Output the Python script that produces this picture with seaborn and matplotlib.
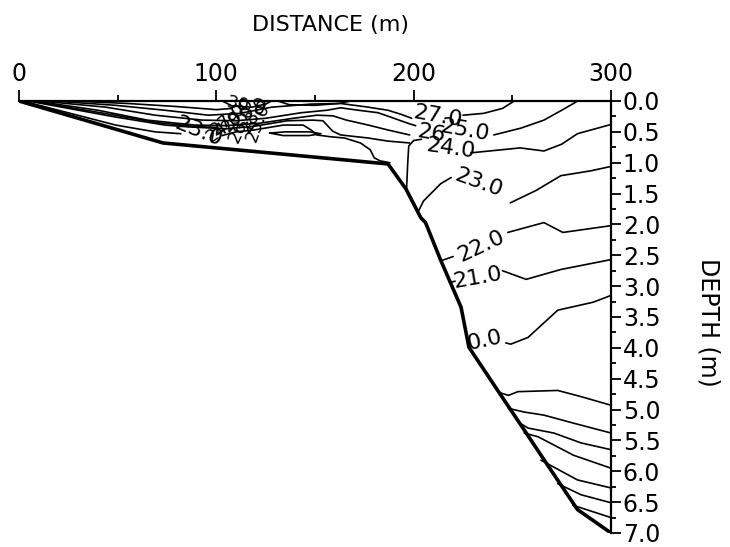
import matplotlib
matplotlib.use("Agg")
import matplotlib.pyplot as plt
import seaborn as sns
import pandas as pd
from matplotlib.ticker import MultipleLocator, FormatStrFormatter

# ---------------- data (distance m, depth m) ----------------
bed_x = [0, 73, 187, 196, 203.6, 206, 213.7, 224, 228, 243, 256, 266, 283, 300]
bed_d = [0, 0.68, 1.02, 1.42, 1.89, 1.97, 2.58, 3.34, 3.99, 4.71, 5.33, 5.81, 6.62, 7.0]

# shallow-shelf isotherms (fanning out from the shore)
iso_f0_x = [26, 55, 80, 100, 108]
iso_f0_d = [0, 0.04, 0.09, 0.14, 0.12]
iso_f1_x = [17, 49, 74, 96, 112, 128, 148, 163, 177, 187, 194, 199]
iso_f1_d = [0, 0.07, 0.15, 0.23, 0.20, 0.10, 0.05, 0.04, 0.10, 0.15, 0.22, 0.28]
iso_f2_x = [10.7, 44, 69, 93, 110, 125, 143, 156, 163, 172, 182, 190, 197, 201]
iso_f2_d = [0, 0.10, 0.23, 0.31, 0.32, 0.28, 0.19, 0.15, 0.11, 0.15, 0.19, 0.28, 0.36, 0.40]
iso_f3_x = [8, 40, 65, 89, 105, 122, 139, 151, 159, 166, 177, 187, 198]
iso_f3_d = [0, 0.15, 0.31, 0.39, 0.40, 0.36, 0.28, 0.23, 0.24, 0.31, 0.39, 0.47, 0.55]
iso_f35_x = [6, 45, 70, 88, 100]
iso_f35_d = [0, 0.21, 0.35, 0.41, 0.43]
iso_f4_x = [4.6, 49, 74, 86, 105, 119, 136, 149, 154, 159, 163, 177, 187, 198]
iso_f4_d = [0, 0.26, 0.39, 0.42, 0.45, 0.41, 0.32, 0.31, 0.32, 0.49, 0.55, 0.60, 0.65, 0.68]
iso_23a_x = [3, 49, 69, 82]
iso_23a_d = [0.01, 0.39, 0.50, 0.53]
iso_23b_x = [103, 110, 119, 134, 144, 148, 151, 158, 165, 173, 178, 180, 183, 188]
iso_23b_d = [0.56, 0.50, 0.47, 0.39, 0.39, 0.47, 0.55, 0.58, 0.60, 0.68, 0.79, 0.92, 0.97, 1.00]
iso_s1_x = [103, 108, 118, 125, 128]
iso_s1_d = [0, 0.08, 0.10, 0.05, 0]
iso_s2_x = [131, 137, 150, 162, 168]
iso_s2_d = [0, 0.06, 0.07, 0.04, 0]
iso_s3_x = [127, 135, 147, 153, 147, 134, 127]
iso_s3_d = [0.52, 0.50, 0.50, 0.53, 0.56, 0.56, 0.52]

# isotherms over the deep channel
iso_27_x = [225, 235.5, 245, 251]
iso_27_d = [0.23, 0.20, 0.12, 0.0]
iso_25_x = [240.6, 254.3, 266, 275, 281, 283]
iso_25_d = [0.55, 0.44, 0.31, 0.15, 0.04, 0.0]
iso_24a_x = [196.4, 197, 197.5, 200, 204]
iso_24a_d = [1.42, 1.00, 0.73, 0.64, 0.62]
iso_24b_x = [229, 254, 266, 275, 283, 300]
iso_24b_d = [0.84, 0.76, 0.81, 0.70, 0.53, 0.38]
iso_23c_x = [202.5, 205, 213.7, 219]
iso_23c_d = [1.78, 1.62, 1.34, 1.24]
iso_23d_x = [249, 262, 274.6, 290, 300]
iso_23d_d = [1.65, 1.45, 1.21, 1.13, 1.06]
iso_22a_x = [214.7, 220]
iso_22a_d = [2.58, 2.52]
iso_22b_x = [247.7, 266, 275.6, 300]
iso_22b_d = [2.13, 1.97, 2.13, 2.02]
iso_21a_x = [218.2, 221]
iso_21a_d = [2.94, 2.92]
iso_21b_x = [245, 257, 274.6, 300]
iso_21b_d = [2.75, 2.89, 2.73, 2.57]
iso_20_x = [246.7, 249.2, 258, 273, 291, 300]
iso_20_d = [3.92, 3.94, 3.83, 3.39, 3.26, 3.15]
iso_19_x = [243, 248, 252.8, 273, 284.8, 300]
iso_19_d = [4.72, 4.77, 4.71, 4.69, 4.79, 4.93]
iso_18_x = [248, 256, 266, 281, 300]
iso_18_d = [4.98, 5.04, 5.09, 5.22, 5.38]
iso_17_x = [252.8, 258, 271, 284.8, 300]
iso_17_d = [5.20, 5.30, 5.38, 5.54, 5.65]
iso_16_x = [256, 263, 281, 300]
iso_16_d = [5.38, 5.44, 5.74, 5.95]
iso_15_x = [264.5, 283, 300]
iso_15_d = [5.82, 6.14, 6.27]
iso_14_x = [273, 284.8, 300]
iso_14_d = [6.20, 6.38, 6.51]
iso_13_x = [280.7, 300]
iso_13_d = [6.55, 6.75]

iso_lines = {
    "f0": (iso_f0_x, iso_f0_d),
    "f1": (iso_f1_x, iso_f1_d), "f2": (iso_f2_x, iso_f2_d),
    "f3": (iso_f3_x, iso_f3_d), "f35": (iso_f35_x, iso_f35_d),
    "f4": (iso_f4_x, iso_f4_d),
    "23a": (iso_23a_x, iso_23a_d), "23b": (iso_23b_x, iso_23b_d),
    "s1": (iso_s1_x, iso_s1_d), "s2": (iso_s2_x, iso_s2_d),
    "s3": (iso_s3_x, iso_s3_d),
    "27": (iso_27_x, iso_27_d), "25": (iso_25_x, iso_25_d),
    "24a": (iso_24a_x, iso_24a_d), "24b": (iso_24b_x, iso_24b_d),
    "23c": (iso_23c_x, iso_23c_d), "23d": (iso_23d_x, iso_23d_d),
    "22a": (iso_22a_x, iso_22a_d), "22b": (iso_22b_x, iso_22b_d),
    "21a": (iso_21a_x, iso_21a_d), "21b": (iso_21b_x, iso_21b_d),
    "20": (iso_20_x, iso_20_d), "19": (iso_19_x, iso_19_d),
    "18": (iso_18_x, iso_18_d), "17": (iso_17_x, iso_17_d),
    "16": (iso_16_x, iso_16_d), "15": (iso_15_x, iso_15_d),
    "14": (iso_14_x, iso_14_d), "13": (iso_13_x, iso_13_d),
}

# contour labels: text, distance, depth, rotation, size
label_text = ["23.0", "30.0", "29.0", "28.0", "27.0", "26.0", "25.0", "24.0",
              "27.0", "26", "25.0", "24.0", "23.0", "22.0", "21.0", "0.0"]
label_x = [91, 115, 111, 119, 106, 113, 121, 104,
           212, 209, 226, 219, 233, 234.5, 232.5, 236]
label_d = [0.50, 0.08, 0.22, 0.21, 0.30, 0.37, 0.35, 0.43,
           0.25, 0.53, 0.47, 0.77, 1.33, 2.35, 2.87, 3.88]
label_rot = [-22, -12, 50, 60, 40, 65, 70, 35,
             -10, -10, -10, -8, -20, 25, 10, 12]
label_size = [16, 13, 13, 13, 13, 13, 13, 13,
              16, 16, 16, 16, 16, 16, 16, 16]

dist_ticks = [0, 100, 200, 300]
depth_ticks = [0.0, 0.5, 1.0, 1.5, 2.0, 2.5, 3.0, 3.5, 4.0, 4.5, 5.0, 5.5, 6.0, 6.5, 7.0]

# ---------------- figure ----------------
sns.set_theme(style="white")
plt.rcParams["font.family"] = ["DejaVu Sans"]
plt.rcParams["text.color"] = "black"

fig = plt.figure(figsize=(7.30, 5.47), dpi=100)
fig.patch.set_facecolor("white")
ax = fig.add_axes([19 / 730, 14 / 547, 592 / 730, 432 / 547])
ax.set_facecolor("white")

rows = []
for name, (xs, ds) in iso_lines.items():
    for i, (xv, dv) in enumerate(zip(xs, ds)):
        rows.append({"line": name, "order": i, "distance": xv, "depth": dv})
df = pd.DataFrame(rows)
sns.lineplot(data=df, x="distance", y="depth", units="line", estimator=None,
             sort=False, color="black", lw=1.2, ax=ax, legend=False)

bed = pd.DataFrame({"distance": bed_x, "depth": bed_d})
sns.lineplot(data=bed, x="distance", y="depth", estimator=None, sort=False,
             color="black", lw=2.6, ax=ax, legend=False)

for t, xv, dv, r, s in zip(label_text, label_x, label_d, label_rot, label_size):
    ax.text(xv, dv, t, rotation=r, fontsize=s, ha="center", va="center",
            rotation_mode="anchor", color="black")

ax.set_xlim(0, 300)
ax.set_ylim(7, 0)

for side in ["left", "bottom"]:
    ax.spines[side].set_visible(False)
for side in ["top", "right"]:
    ax.spines[side].set_visible(True)
    ax.spines[side].set_color("black")
    ax.spines[side].set_linewidth(1.6)

ax.xaxis.tick_top()
ax.set_xticks(dist_ticks)
ax.set_xticklabels([str(v) for v in dist_ticks])
ax.xaxis.set_minor_locator(MultipleLocator(50))
ax.tick_params(axis="x", which="major", direction="out", length=8, width=1.3,
               pad=3, labelsize=17, top=True, bottom=False, colors="black")
ax.tick_params(axis="x", which="minor", direction="out", length=4.5, width=1.3,
               top=True, bottom=False, colors="black")

ax.yaxis.tick_right()
ax.set_yticks(depth_ticks)
ax.yaxis.set_major_formatter(FormatStrFormatter("%.1f"))
ax.yaxis.set_minor_locator(MultipleLocator(0.25))
ax.tick_params(axis="y", which="major", direction="out", length=7.5, width=1.3,
               pad=1, labelsize=17, right=True, left=False, colors="black")
ax.tick_params(axis="y", which="minor", direction="out", length=3.5, width=1.3,
               right=True, left=False, colors="black")

ax.set_xlabel("")
ax.set_ylabel("")
fig.text(331 / 730, 1 - 25 / 547, "DISTANCE (m)", fontsize=16, color="black",
         ha="center", va="center")
fig.text(708 / 730, 1 - 322 / 547, "DEPTH (m)", fontsize=17, rotation=270,
         color="black", ha="center", va="center")

fig.savefig("out.png", dpi=100, facecolor="white")
